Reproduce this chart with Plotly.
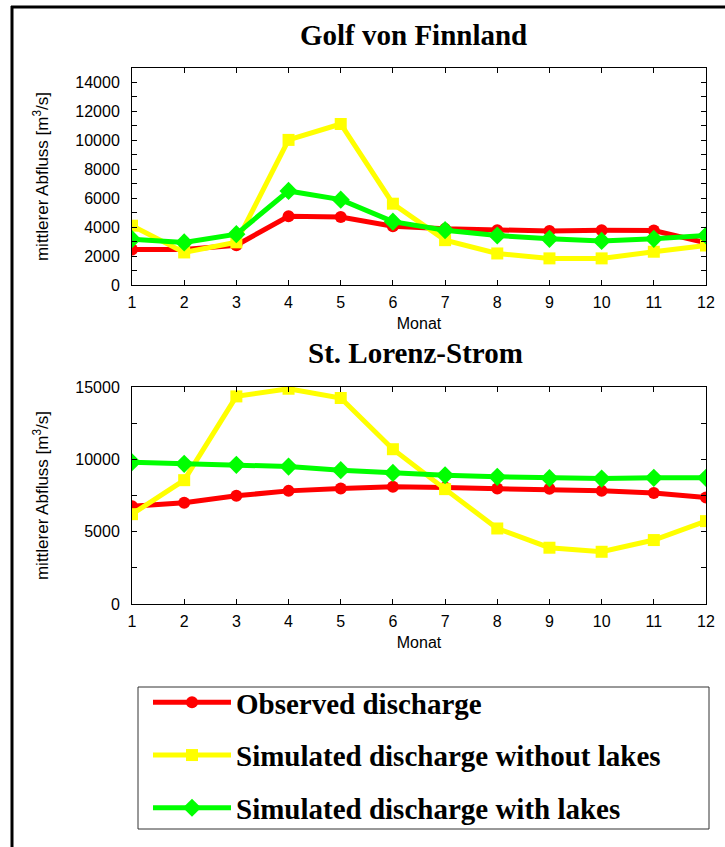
import plotly.graph_objects as go

months = list(range(1, 13))

# Golf von Finnland
fin_observed = [2450, 2450, 2750, 4750, 4700, 4060, 3880, 3790, 3740, 3790, 3770, 2910]
fin_no_lakes = [4100, 2250, 2950, 10030, 11130, 5620, 3100, 2180, 1840, 1840, 2300, 2730]
fin_lakes = [3170, 2940, 3510, 6500, 5900, 4380, 3790, 3420, 3190, 3050, 3190, 3420]

# St. Lorenz-Strom
lor_observed = [6750, 7000, 7480, 7820, 7980, 8100, 8050, 7980, 7960, 7820, 7680, 7360]
lor_no_lakes = [6210, 8560, 14350, 14880, 14240, 10700, 7940, 5220, 3890, 3610, 4420, 5730]
lor_lakes = [9800, 9690, 9620, 9500, 9250, 9060, 8900, 8790, 8700, 8670, 8720, 8720]

series_names = ["Observed discharge", "Simulated discharge without lakes", "Simulated discharge with lakes"]
top_title = "Golf von Finnland"
bottom_title = "St. Lorenz-Strom"
x_title = "Monat"
y_title = "mittlerer Abfluss [m<sup>3</sup>/s]"
top_yticks = [0, 2000, 4000, 6000, 8000, 10000, 12000, 14000]
bot_yticks = [0, 5000, 10000, 15000]

colors = ["#FF0000", "#FFFF00", "#00FF00"]
symbols = ["circle", "square", "diamond"]
sizes = [12, 12, 14]

W, H = 725, 847
def px(x):
    return x / W
def py(y):
    return 1 - y / H

fig = go.Figure()

top_data = [fin_observed, fin_no_lakes, fin_lakes]
bot_data = [lor_observed, lor_no_lakes, lor_lakes]

for i in range(3):
    fig.add_trace(go.Scatter(
        x=months, y=top_data[i], mode="lines+markers", name=series_names[i],
        line=dict(color=colors[i], width=5),
        marker=dict(color=colors[i], symbol=symbols[i], size=sizes[i]),
        xaxis="x", yaxis="y", legendgroup=str(i), showlegend=True,
    ))
for i in range(3):
    fig.add_trace(go.Scatter(
        x=months, y=bot_data[i], mode="lines+markers", name=series_names[i],
        line=dict(color=colors[i], width=5),
        marker=dict(color=colors[i], symbol=symbols[i], size=sizes[i]),
        xaxis="x2", yaxis="y2", legendgroup=str(i), showlegend=False,
    ))

tickfont = dict(family="Liberation Sans, Arial", size=16, color="black")
common_x = dict(
    range=[1, 12], tickvals=months, ticks="inside", ticklen=5, tickcolor="black",
    showline=True, linecolor="black", linewidth=1, mirror="allticks",
    showgrid=False, zeroline=False, tickfont=tickfont, automargin=False,
    ticklabelstandoff=3,
    title=dict(text=x_title, font=dict(family="Liberation Sans, Arial", size=16, color="black"), standoff=7),
    domain=[px(132), px(706)],
)
common_y = dict(
    range=[0, 15000], ticks="inside", ticklen=5, tickcolor="black",
    showline=True, linecolor="black", linewidth=1, mirror="allticks",
    showgrid=False, zeroline=False, tickfont=tickfont, automargin=False,
    tickformat="d", ticklabelstandoff=8,
    title=dict(text=y_title, font=dict(family="Liberation Sans, Arial", size=17, color="black"), standoff=22),
)

fig.update_layout(
    width=W, height=H, autosize=False,
    margin=dict(l=0, r=0, t=0, b=0, autoexpand=False),
    paper_bgcolor="white", plot_bgcolor="white",
    xaxis=dict(**common_x, anchor="y"),
    yaxis=dict(**common_y, anchor="x", domain=[py(285), py(68)],
               tickvals=top_yticks,
               minor=dict(dtick=1000, ticks="inside", ticklen=5, tickcolor="black")),
    xaxis2=dict(**common_x, anchor="y2"),
    yaxis2=dict(**common_y, anchor="x2", domain=[py(604), py(387)],
                tickvals=bot_yticks,
                minor=dict(dtick=2500, ticks="inside", ticklen=5, tickcolor="black")),
    showlegend=True,
    legend=dict(
        x=px(148), y=py(677), xanchor="left", yanchor="top",
        font=dict(family="Liberation Serif, Times New Roman", size=29, color="black", weight="bold"),
        bgcolor="rgba(0,0,0,0)", borderwidth=0,
        traceorder="grouped", tracegroupgap=12, itemwidth=78,
    ),
    annotations=[
        dict(text="<b>" + top_title + "</b>", x=px(413), y=py(35), xref="paper", yref="paper",
             xanchor="center", yanchor="middle", showarrow=False,
             font=dict(family="Liberation Serif, Times New Roman", size=29, color="black")),
        dict(text="<b>" + bottom_title + "</b>", x=px(415), y=py(353), xref="paper", yref="paper",
             xanchor="center", yanchor="middle", showarrow=False,
             font=dict(family="Liberation Serif, Times New Roman", size=29, color="black")),
    ],
    shapes=[
        dict(type="rect", xref="paper", yref="paper", x0=px(138), x1=px(709), y0=py(829), y1=py(687),
             line=dict(color="#333333", width=1)),
        dict(type="line", xref="paper", yref="paper", x0=px(12), x1=px(12), y0=0, y1=py(6),
             line=dict(color="black", width=3)),
        dict(type="line", xref="paper", yref="paper", x0=px(11), x1=1, y0=py(7), y1=py(7),
             line=dict(color="black", width=3)),
    ],
)

fig.write_html("out.html", config={"displayModeBar": False},
               post_script="document.body.style.margin='0px';document.body.style.overflow='hidden';")
